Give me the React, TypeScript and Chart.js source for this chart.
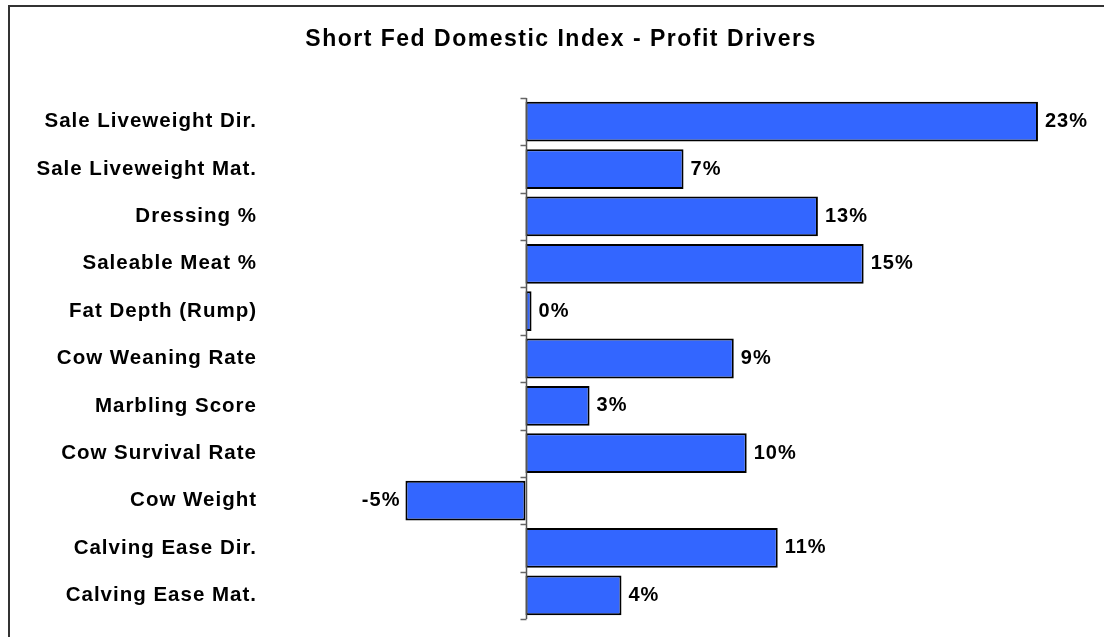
import React, { useEffect, useRef } from 'react';
import { Chart, registerables } from 'chart.js';

Chart.register(...registerables);

const chartTitle = 'Short Fed Domestic Index - Profit Drivers';
const categories = [
  'Sale Liveweight Dir.',
  'Sale Liveweight Mat.',
  'Dressing %',
  'Saleable Meat %',
  'Fat Depth (Rump)',
  'Cow Weaning Rate',
  'Marbling Score',
  'Cow Survival Rate',
  'Cow Weight',
  'Calving Ease Dir.',
  'Calving Ease Mat.',
];
const values = [22.96, 7.08, 13.1, 15.15, 0.27, 9.33, 2.87, 9.91, -5.38, 11.3, 4.3];

const FONT = "'Liberation Sans', Arial, sans-serif";

const decorPlugin = {
  id: 'decor',
  beforeDraw(chart: any) {
    const ctx = chart.ctx;
    ctx.letterSpacing = '1px';
    ctx.save();
    ctx.strokeStyle = '#333333';
    ctx.lineWidth = 2;
    ctx.beginPath();
    ctx.moveTo(9, 700);
    ctx.lineTo(9, 6);
    ctx.lineTo(1300, 6);
    ctx.stroke();
    ctx.restore();
  },
  afterDatasetsDraw(chart: any) {
    const ctx = chart.ctx;
    const xs = chart.scales.x;
    const ys = chart.scales.y;
    const area = chart.chartArea;
    const x0 = Math.round(xs.getPixelForValue(0)) + 0.5;
    ctx.save();
    // zero axis line
    ctx.strokeStyle = '#555555';
    ctx.lineWidth = 1.5;
    ctx.beginPath();
    ctx.moveTo(x0, area.top);
    ctx.lineTo(x0, area.bottom);
    ctx.stroke();
    // category boundary ticks
    const n = categories.length;
    const step = n > 1 ? ys.getPixelForValue(1) - ys.getPixelForValue(0) : 0;
    ctx.strokeStyle = '#666666';
    ctx.lineWidth = 1.5;
    for (let i = 0; i <= n; i++) {
      const y = Math.round(ys.getPixelForValue(0) - step / 2 + i * step) + 0.5;
      ctx.beginPath();
      ctx.moveTo(x0 - 6, y);
      ctx.lineTo(x0, y);
      ctx.stroke();
    }
    // data labels
    ctx.fillStyle = '#000000';
    ctx.font = `bold 20px ${FONT}`;
    ctx.textBaseline = 'middle';
    ctx.letterSpacing = '1px';
    const meta = chart.getDatasetMeta(0);
    meta.data.forEach((bar: any, i: number) => {
      const v = values[i];
      const label = `${Math.round(v)}%`;
      if (v >= 0) {
        ctx.textAlign = 'left';
        ctx.fillText(label, bar.x + 7, bar.y);
      } else {
        ctx.textAlign = 'right';
        ctx.fillText(label, bar.x - 5, bar.y);
      }
    });
    // title
    ctx.font = `bold 23px ${FONT}`;
    ctx.letterSpacing = '1.5px';
    ctx.textAlign = 'center';
    ctx.fillText(chartTitle, 561, 40);
    ctx.restore();
  },
};

export default function App() {
  const ref = useRef<HTMLCanvasElement>(null);
  useEffect(() => {
    if (!ref.current) return;
    const chart = new Chart(ref.current, {
      type: 'bar',
      data: {
        labels: categories,
        datasets: [
          {
            data: values,
            backgroundColor: '#3366FF',
            borderColor: '#000000',
            borderWidth: 2,
            borderSkipped: false,
            barPercentage: 0.84,
            categoryPercentage: 1,
          },
        ],
      },
      options: {
        indexAxis: 'y',
        responsive: false,
        animation: false,
        devicePixelRatio: 1,
        layout: { padding: { top: 98, bottom: 18, left: 0, right: 20.5 } },
        scales: {
          x: { display: false, min: -11, max: 25 },
          y: {
            grid: { display: false },
            border: { display: false },
            ticks: {
              color: '#000000',
              padding: 15,
              font: { family: FONT, size: 20.5, weight: 'bold' },
            },
            afterFit: (s: any) => {
              s.width = 280;
              s.paddingTop = 0;
              s.paddingBottom = 0;
            },
          },
        },
        plugins: {
          legend: { display: false },
          title: { display: false },
          tooltip: { enabled: false },
        },
      },
      plugins: [decorPlugin],
    } as any);
    return () => chart.destroy();
  }, []);
  return (
    <canvas
      ref={ref}
      width={1104}
      height={637}
      style={{ position: 'fixed', left: 0, top: 0, width: 1104, height: 637 }}
    />
  );
}
